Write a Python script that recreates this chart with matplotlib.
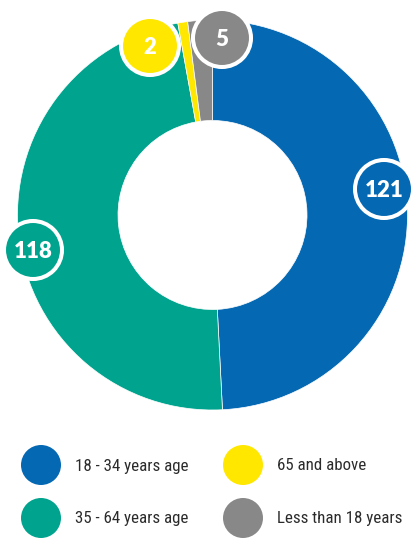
import matplotlib.pyplot as plt
from matplotlib.patches import Circle
from matplotlib import font_manager

# data
groups = ["18 - 34 years age", "35 - 64 years age", "65 and above", "Less than 18 years"]
counts = [121, 118, 2, 5]
colors = ["#0468B3", "#00A48E", "#FFE700", "#888888"]

# label bubble positions (pixel offsets from donut centre, y up)
bubble_offsets = [(171.5, 26), (-179.5, -35), (-62.5, 169), (9.5, 177)]

# pick a narrow font for the legend if one is around
installed = {f.name for f in font_manager.fontManager.ttflist}
narrow = [f.name for f in font_manager.fontManager.ttflist
          if f.stretch in ("condensed", "semi-condensed", "extra-condensed", "ultra-condensed")
          or "Condensed" in f.name or "Narrow" in f.name]
leg_font = None
for cand in ["Roboto Condensed", "Liberation Sans Narrow", "Open Sans Condensed"] + narrow:
    if cand in installed:
        leg_font = cand
        break
if leg_font is None:
    leg_font = "Roboto" if "Roboto" in installed else "DejaVu Sans"

W, H = 414, 541
fig = plt.figure(figsize=(W / 100, H / 100), dpi=100)
ax = fig.add_axes([0, 0, 1, 1])

cx, cy = 212.5, H - 215
R = 195
ax.pie(counts, colors=colors, startangle=90, counterclock=False,
       radius=R, center=(cx, cy), frame=True,
       wedgeprops=dict(width=R - 94.5, edgecolor="white", linewidth=0.5))
ax.set_xlim(0, W)
ax.set_ylim(0, H)
ax.set_aspect("equal")
ax.axis("off")

# value bubbles
for n, c, (dx, dy) in zip(counts, colors, bubble_offsets):
    ax.add_patch(Circle((cx + dx, cy + dy), 29, facecolor=c, edgecolor="white",
                        linewidth=2.9, zorder=5))
    ax.text(cx + dx, cy + dy - 1, str(n), ha="center", va="center", color="white",
            fontsize=16, fontweight="heavy", family=["Lato", "DejaVu Sans"], zorder=6)

# legend
leg_x = [41, 41, 243, 243]
leg_y = [465, 518, 465, 518]
texts = []
for g, c, lx, ly in zip(groups, colors, leg_x, leg_y):
    ax.add_patch(Circle((lx, H - ly), 20, facecolor=c, edgecolor="none"))
    t = ax.text(lx + 34, H - ly - 1, g, ha="left", va="center", color="#2b2b2b",
                fontsize=14, family=[leg_font, "DejaVu Sans"])
    texts.append(t)

# shrink the legend font so the longest label spans about as far as in the original
r = fig.canvas.get_renderer()
w = texts[3].get_window_extent(r).width
size = min(16, 14 * 126 / w)
for t in texts:
    t.set_fontsize(size)

fig.savefig("out.png", dpi=100)
